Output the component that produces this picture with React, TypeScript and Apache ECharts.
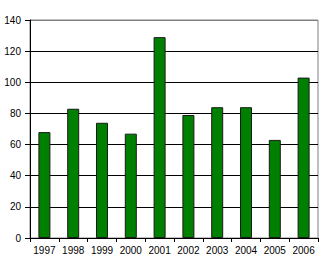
import React, { useEffect, useRef } from "react";
import * as echarts from "echarts";

const categories = ["1997", "1998", "1999", "2000", "2001", "2002", "2003", "2004", "2005", "2006"];
const values = [68, 83, 74, 67, 129, 79, 84, 84, 63, 103];
const yTicks = [0, 20, 40, 60, 80, 100, 120, 140];

const FONT = "'Liberation Sans Narrow', 'Liberation Sans', Arial, sans-serif";

export default function App() {
  const ref = useRef<HTMLDivElement>(null);
  useEffect(() => {
    if (!ref.current) return;
    const chart = echarts.init(ref.current, undefined, { renderer: "svg" });
    const splitColors = yTicks.map((t, i) => (i === yTicks.length - 1 ? "#808080" : "#000000"));
    chart.setOption({
      animation: false,
      backgroundColor: "#ffffff",
      grid: {
        left: 30,
        right: 7,
        top: 20,
        bottom: 29,
        show: true,
        borderColor: "#808080",
        borderWidth: 1,
        backgroundColor: "transparent",
      },
      xAxis: {
        type: "category",
        data: categories,
        boundaryGap: true,
        axisLine: { show: true, lineStyle: { color: "#000", width: 1 } },
        axisTick: { show: true, alignWithLabel: false, length: 4, lineStyle: { color: "#000" } },
        axisLabel: { color: "#000", fontSize: 10, fontFamily: FONT, margin: 7, interval: 0 },
        splitLine: { show: false },
      },
      yAxis: {
        type: "value",
        min: 0,
        max: 140,
        interval: 20,
        axisLine: { show: true, lineStyle: { color: "#000", width: 1 } },
        axisTick: { show: true, length: 5, lineStyle: { color: "#000" } },
        axisLabel: { color: "#000", fontSize: 10, fontFamily: FONT, margin: 9 },
        splitLine: { show: true, lineStyle: { color: splitColors, width: 1 } },
      },
      series: [
        {
          type: "bar",
          data: values,
          barWidth: 12,
          itemStyle: { color: "#008000", borderColor: "#1a1a1a", borderWidth: 1 },
        },
      ],
    });
    return () => chart.dispose();
  }, []);
  return <div ref={ref} style={{ width: 325, height: 267, position: "absolute", left: 0, top: 0 }} />;
}
